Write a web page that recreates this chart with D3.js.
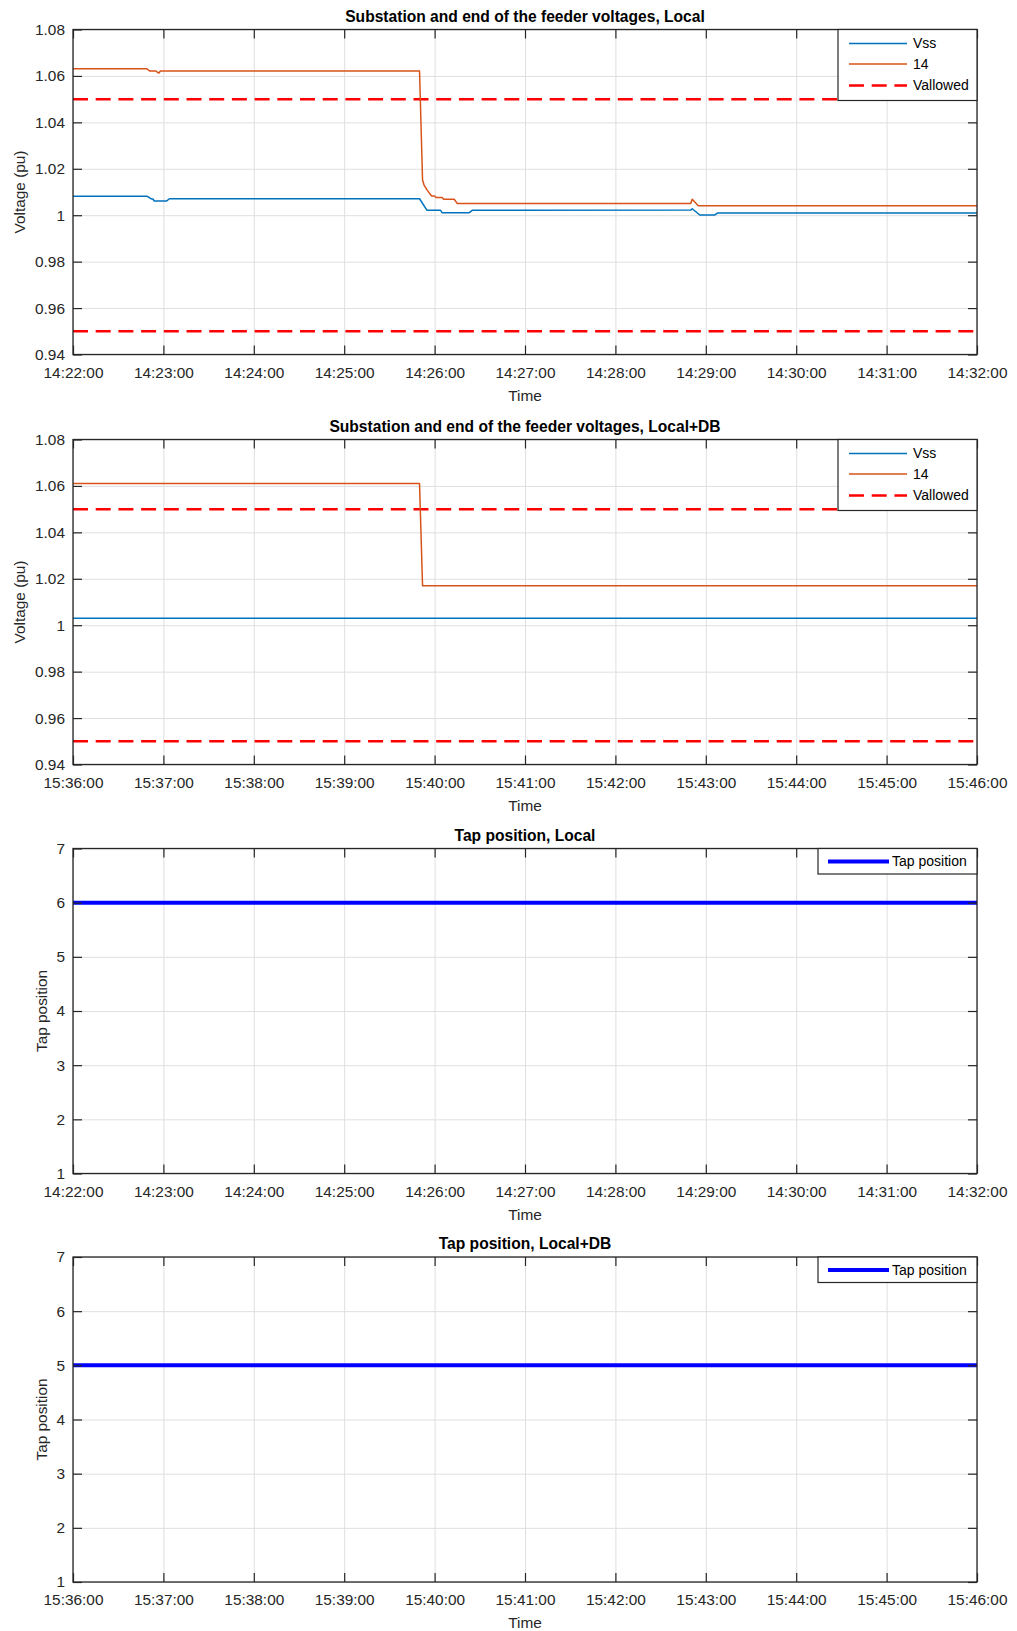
<!DOCTYPE html>
<html>
<head>
<meta charset="utf-8">
<script src="https://cdn.jsdelivr.net/npm/d3@7"></script>
<style>
  html, body { margin: 0; padding: 0; background: #fff; }
  svg { display: block; font-family: "Liberation Sans", Arial, Helvetica, sans-serif; }
</style>
</head>
<body>
<svg id="fig" width="1017" height="1631"></svg>
<script>
// ---- data -------------------------------------------------------------
const timeTicksLocal = ["14:22:00","14:23:00","14:24:00","14:25:00","14:26:00","14:27:00",
                        "14:28:00","14:29:00","14:30:00","14:31:00","14:32:00"];
const timeTicksDB    = ["15:36:00","15:37:00","15:38:00","15:39:00","15:40:00","15:41:00",
                        "15:42:00","15:43:00","15:44:00","15:45:00","15:46:00"];
const voltTicks = [0.94, 0.96, 0.98, 1.00, 1.02, 1.04, 1.06, 1.08];
const tapTicks  = [1, 2, 3, 4, 5, 6, 7];

// substation voltage, local control
const vssLocal = [
  ["14:22:00", 1.0082], ["14:22:49", 1.0082], ["14:22:52", 1.0070], ["14:22:53", 1.0070],
  ["14:22:54", 1.0061], ["14:23:02", 1.0061], ["14:23:04", 1.0071], ["14:25:50", 1.0071],
  ["14:25:55", 1.0021], ["14:26:04", 1.0021], ["14:26:05", 1.0011], ["14:26:23", 1.0011],
  ["14:26:25", 1.0021], ["14:28:50", 1.0022], ["14:28:51", 1.0028], ["14:28:56", 1.0001],
  ["14:29:06", 1.0001], ["14:29:08", 1.0010], ["14:32:00", 1.0010]
];
// end-of-feeder node 14 voltage, local control
const v14Local = [
  ["14:22:00", 1.0631], ["14:22:49", 1.0631], ["14:22:51", 1.0621], ["14:22:55", 1.0621],
  ["14:22:57", 1.0612], ["14:22:58", 1.0621], ["14:25:50", 1.0621], ["14:25:52", 1.0152],
  ["14:25:53", 1.0130], ["14:25:55", 1.0109], ["14:25:57", 1.0091], ["14:25:58", 1.0083],
  ["14:26:00", 1.0083], ["14:26:01", 1.0076], ["14:26:05", 1.0076], ["14:26:06", 1.0069],
  ["14:26:13", 1.0069], ["14:26:15", 1.0051], ["14:28:50", 1.0051], ["14:28:51", 1.0069],
  ["14:28:55", 1.0041], ["14:32:00", 1.0041]
];
// substation and node 14 voltages, local + DB control
const vssDB = [["15:36:00", 1.003], ["15:46:00", 1.003]];
const v14DB = [["15:36:00", 1.061], ["15:39:50", 1.061], ["15:39:52", 1.017], ["15:46:00", 1.017]];
// allowed voltage band
const vAllowed = [1.05, 0.95];
// transformer tap positions
const tapLocal = [["14:22:00", 6], ["14:32:00", 6]];
const tapDB    = [["15:36:00", 5], ["15:46:00", 5]];

// ---- layout / style ---------------------------------------------------
const left = 73, right = 977, plotH = 325;
const font = 15.4;
const axisColor = "#262626";
const gridColor = "#dfdfdf";
const cBlue = "#0072BD", cOrange = "#D95319", cRed = "#FF0000", cTap = "#0000FF";
const parseT = d3.timeParse("%H:%M:%S");
const fmtT = d3.timeFormat("%H:%M:%S");
const svg = d3.select("#fig");

function panel(cfg) {
  const top = cfg.top, bottom = top + plotH;
  const xTicks = cfg.xTicks.map(parseT);
  const x = d3.scaleTime().domain([xTicks[0], xTicks[xTicks.length - 1]]).range([left, right]);
  const y = d3.scaleLinear().domain(cfg.yDomain).range([bottom, top]);
  const g = svg.append("g");
  const clipId = "clip" + Math.round(top);
  g.append("clipPath").attr("id", clipId)
    .append("rect").attr("x", left).attr("y", top).attr("width", right - left).attr("height", plotH);

  g.append("rect").attr("x", left).attr("y", top).attr("width", right - left).attr("height", plotH)
    .attr("fill", "#fff");

  // grid
  const gx = g.append("g").attr("transform", `translate(0,${bottom})`)
    .call(d3.axisBottom(x).tickValues(xTicks).tickSize(-plotH).tickFormat(""));
  const gy = g.append("g").attr("transform", `translate(${left},0)`)
    .call(d3.axisLeft(y).tickValues(cfg.yTicks).tickSize(-(right - left)).tickFormat(""));
  [gx, gy].forEach(a => {
    a.select(".domain").remove();
    a.selectAll("line").attr("stroke", gridColor).attr("stroke-width", 1);
  });

  // data
  const dg = g.append("g").attr("clip-path", `url(#${clipId})`);
  cfg.hlines.forEach(v => {
    dg.append("path")
      .attr("d", d3.line()([[x.range()[0], y(v)], [x.range()[1], y(v)]]))
      .attr("fill", "none").attr("stroke", cRed).attr("stroke-width", 2.5)
      .attr("stroke-dasharray", "15,7.7");
  });
  const line = d3.line().x(d => x(parseT(d[0]))).y(d => y(d[1]));
  cfg.series.forEach(s => {
    dg.append("path").datum(s.data).attr("d", line)
      .attr("fill", "none").attr("stroke", s.color).attr("stroke-width", s.width)
      .attr("stroke-linejoin", "round");
  });

  // axes with inward ticks on all four sides
  const styleAxis = a => {
    a.select(".domain").remove();
    a.selectAll("line").attr("stroke", axisColor).attr("stroke-width", 1.2);
    a.selectAll("text").attr("fill", axisColor).attr("font-size", font)
      .attr("font-family", "Liberation Sans, Arial, sans-serif");
  };
  styleAxis(g.append("g").attr("transform", `translate(0,${bottom})`)
    .call(d3.axisBottom(x).tickValues(xTicks).tickSizeInner(-9).tickSizeOuter(0)
      .tickPadding(12.5).tickFormat(fmtT)));
  styleAxis(g.append("g").attr("transform", `translate(0,${top})`)
    .call(d3.axisTop(x).tickValues(xTicks).tickSizeInner(-9).tickSizeOuter(0).tickFormat("")));
  styleAxis(g.append("g").attr("transform", `translate(${left},0)`)
    .call(d3.axisLeft(y).tickValues(cfg.yTicks).tickSizeInner(-9).tickSizeOuter(0)
      .tickPadding(8).tickFormat(cfg.yFmt)));
  styleAxis(g.append("g").attr("transform", `translate(${right},0)`)
    .call(d3.axisRight(y).tickValues(cfg.yTicks).tickSizeInner(-9).tickSizeOuter(0).tickFormat("")));

  g.append("rect").attr("x", left).attr("y", top).attr("width", right - left).attr("height", plotH)
    .attr("fill", "none").attr("stroke", axisColor).attr("stroke-width", 1.3);

  // title and axis labels
  g.append("text").attr("x", (left + right) / 2).attr("y", top - 13).attr("dy", "0.35em")
    .attr("text-anchor", "middle").attr("font-weight", "bold").attr("font-size", 15.6)
    .attr("fill", "#000").text(cfg.title);
  g.append("text").attr("x", (left + right) / 2).attr("y", bottom + 41).attr("dy", "0.35em")
    .attr("text-anchor", "middle").attr("font-size", font).attr("fill", axisColor).text("Time");
  g.append("text").attr("transform", `translate(${cfg.ylabelX},${(top + bottom) / 2}) rotate(-90)`)
    .attr("dy", "0.35em").attr("text-anchor", "middle").attr("font-size", font)
    .attr("fill", axisColor).text(cfg.ylabel);

  // legend
  const L = cfg.legend;
  const lg = g.append("g");
  lg.append("rect").attr("x", L.x).attr("y", top).attr("width", right - L.x).attr("height", L.h)
    .attr("fill", "#fff").attr("stroke", axisColor).attr("stroke-width", 1.2);
  L.items.forEach((it, i) => {
    const yy = top + L.rows[i];
    lg.append("line").attr("x1", L.x1).attr("x2", L.x2).attr("y1", yy).attr("y2", yy)
      .attr("stroke", it.color).attr("stroke-width", it.width)
      .attr("stroke-dasharray", it.dash || null);
    lg.append("text").attr("x", L.tx).attr("y", yy).attr("dy", "0.35em")
      .attr("font-size", 14).attr("fill", "#000").text(it.label);
  });
}

const voltFmt = d => String(+d.toFixed(2));
const voltLegend = {
  x: 838, h: 71, x1: 849, x2: 907, tx: 913, rows: [14, 34.5, 56],
  items: [
    { label: "Vss", color: cBlue, width: 1.5 },
    { label: "14", color: cOrange, width: 1.5 },
    { label: "Vallowed", color: cRed, width: 2.5, dash: "15,7.7" }
  ]
};
const tapLegend = {
  x: 818, h: 25.5, x1: 828, x2: 889, tx: 892, rows: [13],
  items: [{ label: "Tap position", color: cTap, width: 4 }]
};

panel({
  top: 29.5, xTicks: timeTicksLocal, yDomain: [0.94, 1.08], yTicks: voltTicks, yFmt: voltFmt,
  title: "Substation and end of the feeder voltages, Local", ylabel: "Voltage (pu)", ylabelX: 20,
  hlines: vAllowed,
  series: [{ data: vssLocal, color: cBlue, width: 1.5 }, { data: v14Local, color: cOrange, width: 1.5 }],
  legend: voltLegend
});
panel({
  top: 439.5, xTicks: timeTicksDB, yDomain: [0.94, 1.08], yTicks: voltTicks, yFmt: voltFmt,
  title: "Substation and end of the feeder voltages, Local+DB", ylabel: "Voltage (pu)", ylabelX: 20,
  hlines: vAllowed,
  series: [{ data: vssDB, color: cBlue, width: 1.5 }, { data: v14DB, color: cOrange, width: 1.5 }],
  legend: voltLegend
});
panel({
  top: 848.5, xTicks: timeTicksLocal, yDomain: [1, 7], yTicks: tapTicks, yFmt: d3.format("d"),
  title: "Tap position, Local", ylabel: "Tap position", ylabelX: 42,
  hlines: [],
  series: [{ data: tapLocal, color: cTap, width: 4 }],
  legend: tapLegend
});
panel({
  top: 1257, xTicks: timeTicksDB, yDomain: [1, 7], yTicks: tapTicks, yFmt: d3.format("d"),
  title: "Tap position, Local+DB", ylabel: "Tap position", ylabelX: 42,
  hlines: [],
  series: [{ data: tapDB, color: cTap, width: 4 }],
  legend: tapLegend
});
</script>
</body>
</html>
